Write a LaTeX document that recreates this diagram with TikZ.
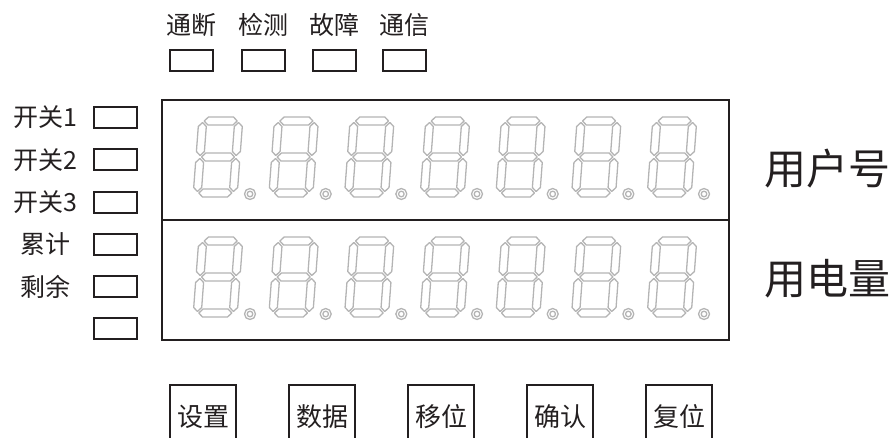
\documentclass[tikz,border=0pt]{standalone}
\usepackage{fontspec}
\newfontfamily\cjk{Noto Sans CJK SC}
\usetikzlibrary{calc}
\definecolor{ink}{HTML}{231F20}
\definecolor{segc}{HTML}{B4B4B4}
\tikzset{
  frame/.style={draw=ink, line width=2.4pt},
  led/.style={draw=ink, line width=2pt, minimum width=43pt, minimum height=21pt, inner sep=0pt},
  lbl/.style={font=\cjk\fontsize{25}{25}\selectfont, text=ink, inner sep=0pt},
  biglbl/.style={font=\cjk\fontsize{42}{42}\selectfont, text=ink, inner sep=0pt, anchor=west},
  btn/.style={font=\cjk\fontsize{26}{26}\selectfont, text=ink, inner sep=0pt, minimum width=66pt, text height=41pt, text depth=12pt, anchor=north},
  segline/.style={draw=segc, line width=1.3pt, line join=round},
}
\newcommand\sevenseg[2]{%
  \begin{scope}[shift={(#1,#2)}, y=1pt, xslant=0.075, segline]
    \draw (5.5,76) -- (9.5,80) -- (34.5,80) -- (38.5,76) -- (34.5,72) -- (9.5,72) -- cycle;
    \draw (5.5,40) -- (9.5,44) -- (34.5,44) -- (38.5,40) -- (34.5,36) -- (9.5,36) -- cycle;
    \draw (5.5,4) -- (9.5,8) -- (34.5,8) -- (38.5,4) -- (34.5,0) -- (9.5,0) -- cycle;
    \draw (4,74.5) -- (8,70.5) -- (8,45.5) -- (4,41.5) -- (0,45.5) -- (0,70.5) -- cycle;
    \draw (4,38.5) -- (8,34.5) -- (8,9.5) -- (4,5.5) -- (0,9.5) -- (0,34.5) -- cycle;
    \draw (40,74.5) -- (44,70.5) -- (44,45.5) -- (40,41.5) -- (36,45.5) -- (36,70.5) -- cycle;
    \draw (40,38.5) -- (44,34.5) -- (44,9.5) -- (40,5.5) -- (36,9.5) -- (36,34.5) -- cycle;
  \end{scope}
  \draw[segline] (#1+57,#2-3) circle (5.5pt);
  \draw[segline] (#1+57,#2-3) circle (2.8pt);
}
\begin{document}
\begin{tikzpicture}[x=1pt, y=-1pt]
  \useasboundingbox (0,0) rectangle (892,438);
  % display frame
  \coordinate (tl) at (162,100);
  \coordinate (br) at (729,340);
  \coordinate (ml) at (162,220);
  \coordinate (mr) at (729,220);
  \draw[frame] (tl) rectangle (br);
  \draw[frame] (ml) -- (mr);
  % digits
  \foreach \k in {0,...,6} {
    \sevenseg{193+\k*75.67}{197}
    \sevenseg{193+\k*75.67}{317}
  }
  % top LEDs
  \node[led] (t1) at (191.5,61) {};
  \node[led] (t2) at (263,61) {};
  \node[led] (t3) at (334,61) {};
  \node[led] (t4) at (404.5,61) {};
  \node[lbl] (lt1) at (191.5,25) {通断};
  \node[lbl] (lt2) at (263,25) {检测};
  \node[lbl] (lt3) at (334,25) {故障};
  \node[lbl] (lt4) at (404.5,25) {通信};
  % left LEDs
  \foreach \i/\t in {0/开关1,1/开关2,2/开关3,3/累计,4/剩余} {
    \node[led] (l\i) at (115,117.5+\i*42.3) {};
    \node[lbl] (ll\i) at (45,117.5+\i*42.3) {\t};
  }
  \node[led] (l5) at (115,117.5+5*42.3) {};
  % right labels
  \node[biglbl] (r1) at (764,169) {用户号};
  \node[biglbl] (r2) at (764,279) {用电量};
  % buttons
  \foreach \i/\t in {0/设置,1/数据,2/移位,3/确认,4/复位} {
    \node[btn] (b\i) at (203+\i*119,385) {\t};
    \draw[ink, line width=2pt] (b\i.south west) |- (b\i.north east) -- (b\i.south east);
  }
\end{tikzpicture}
\end{document}
